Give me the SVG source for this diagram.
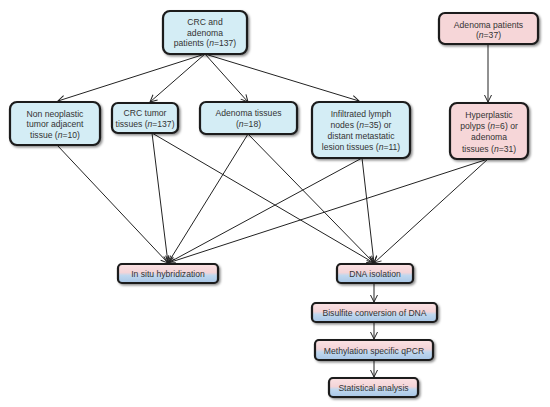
<svg xmlns="http://www.w3.org/2000/svg" width="550" height="407" viewBox="0 0 550 407">
<defs>
<style>
.b{fill:#d4edf5;stroke:#1a1a1a;stroke-width:2.2;filter:url(#sh)}
.p{fill:#f6d6d8;stroke:#1a1a1a;stroke-width:2.2;filter:url(#sh)}
.g{fill:url(#gr);stroke:#1a1a1a;stroke-width:2.2;filter:url(#sh)}
text{font-family:"Liberation Sans",Arial,sans-serif;font-size:8.6px;fill:#333;text-anchor:middle;dominant-baseline:central}
.c line{stroke:#222;stroke-width:1;marker-end:url(#ah)}
</style>
<linearGradient id="gr" x1="0" y1="0" x2="0" y2="1">
<stop offset="0" stop-color="#fbe2e3"/>
<stop offset="0.45" stop-color="#f3d4d8"/>
<stop offset="0.6" stop-color="#c0d7ee"/>
<stop offset="1" stop-color="#a8c6e6"/>
</linearGradient>
<filter id="sh" x="-20%" y="-30%" width="140%" height="160%">
<feDropShadow dx="1.5" dy="1.5" stdDeviation="1.3" flood-color="#000" flood-opacity="0.45"/>
</filter>
<marker id="ah" markerUnits="userSpaceOnUse" markerWidth="10" markerHeight="10" refX="8" refY="4" orient="auto">
<path d="M1,0.5 L8,4 L1,7.5" fill="none" stroke="#222" stroke-width="1"/>
</marker>
</defs>
<g class="c" id="connectors">
<line x1="205" y1="54" x2="58" y2="101"/>
<line x1="205" y1="54" x2="150" y2="102"/>
<line x1="205" y1="54" x2="248" y2="102"/>
<line x1="205" y1="54" x2="359" y2="101"/>
<line x1="488" y1="44" x2="488" y2="102"/>
<line x1="57" y1="145" x2="168" y2="263"/>
<line x1="152" y1="133" x2="168" y2="263"/>
<line x1="152" y1="133" x2="374" y2="263"/>
<line x1="248" y1="134" x2="168" y2="263"/>
<line x1="248" y1="134" x2="374" y2="263"/>
<line x1="362" y1="158" x2="168" y2="263"/>
<line x1="362" y1="158" x2="374" y2="263"/>
<line x1="488" y1="159" x2="168" y2="263"/>
<line x1="488" y1="159" x2="374" y2="263"/>
<line x1="374" y1="283" x2="374" y2="302"/>
<line x1="374" y1="322" x2="374" y2="339"/>
<line x1="374" y1="360" x2="374" y2="377"/>
</g>
<g id="crc-adenoma-patients">
<rect class="b" x="163" y="11" width="84" height="43" rx="7"/>
<text x="205" y="22">CRC and</text>
<text x="205" y="32.5">adenoma</text>
<text x="205" y="43">patients (<tspan font-style="italic">n</tspan>=137)</text>
</g>
<g id="adenoma-patients">
<rect class="p" x="439" y="13" width="99" height="31" rx="6"/>
<text x="488.5" y="24.5">Adenoma patients</text>
<text x="488.5" y="35">(<tspan font-style="italic">n</tspan>=37)</text>
</g>
<g id="non-neoplastic">
<rect class="b" x="10" y="102" width="90" height="43" rx="7"/>
<text x="55" y="114">Non neoplastic</text>
<text x="55" y="124">tumor adjacent</text>
<text x="55" y="134.5">tissue (<tspan font-style="italic">n</tspan>=10)</text>
</g>
<g id="crc-tumor">
<rect class="b" x="112" y="103" width="66" height="30" rx="6"/>
<text x="145" y="113">CRC tumor</text>
<text x="145" y="124">tissues (<tspan font-style="italic">n</tspan>=137)</text>
</g>
<g id="adenoma-tissues">
<rect class="b" x="200" y="102" width="97" height="32" rx="6"/>
<text x="248.5" y="113">Adenoma tissues</text>
<text x="248.5" y="123.5">(<tspan font-style="italic">n</tspan>=18)</text>
</g>
<g id="infiltrated">
<rect class="b" x="312" y="102" width="98" height="56" rx="7"/>
<text x="361" y="114">Infiltrated lymph</text>
<text x="361" y="124.5">nodes (<tspan font-style="italic">n</tspan>=35) or</text>
<text x="361" y="135.5">distant metastatic</text>
<text x="361" y="147">lesion tissues (<tspan font-style="italic">n</tspan>=11)</text>
</g>
<g id="hyperplastic">
<rect class="p" x="450" y="103" width="78" height="56" rx="7"/>
<text x="489" y="115">Hyperplastic</text>
<text x="489" y="126">polyps (<tspan font-style="italic">n</tspan>=6) or</text>
<text x="489" y="137">adenoma</text>
<text x="489" y="148.5">tissues (<tspan font-style="italic">n</tspan>=31)</text>
</g>
<g id="in-situ">
<rect class="g" x="118" y="264" width="100" height="19" rx="4"/>
<text x="168" y="274">In situ hybridization</text>
</g>
<g id="dna-isolation">
<rect class="g" x="337" y="264" width="76" height="19" rx="4"/>
<text x="375" y="274">DNA isolation</text>
</g>
<g id="bisulfite">
<rect class="g" x="312" y="303" width="125" height="19" rx="4"/>
<text x="374.5" y="313">Bisulfite conversion of DNA</text>
</g>
<g id="methylation">
<rect class="g" x="315" y="340" width="118" height="20" rx="4"/>
<text x="374" y="350.5">Methylation specific qPCR</text>
</g>
<g id="statistical">
<rect class="g" x="329" y="378" width="89" height="19" rx="4"/>
<text x="373.5" y="388">Statistical analysis</text>
</g>
</svg>
